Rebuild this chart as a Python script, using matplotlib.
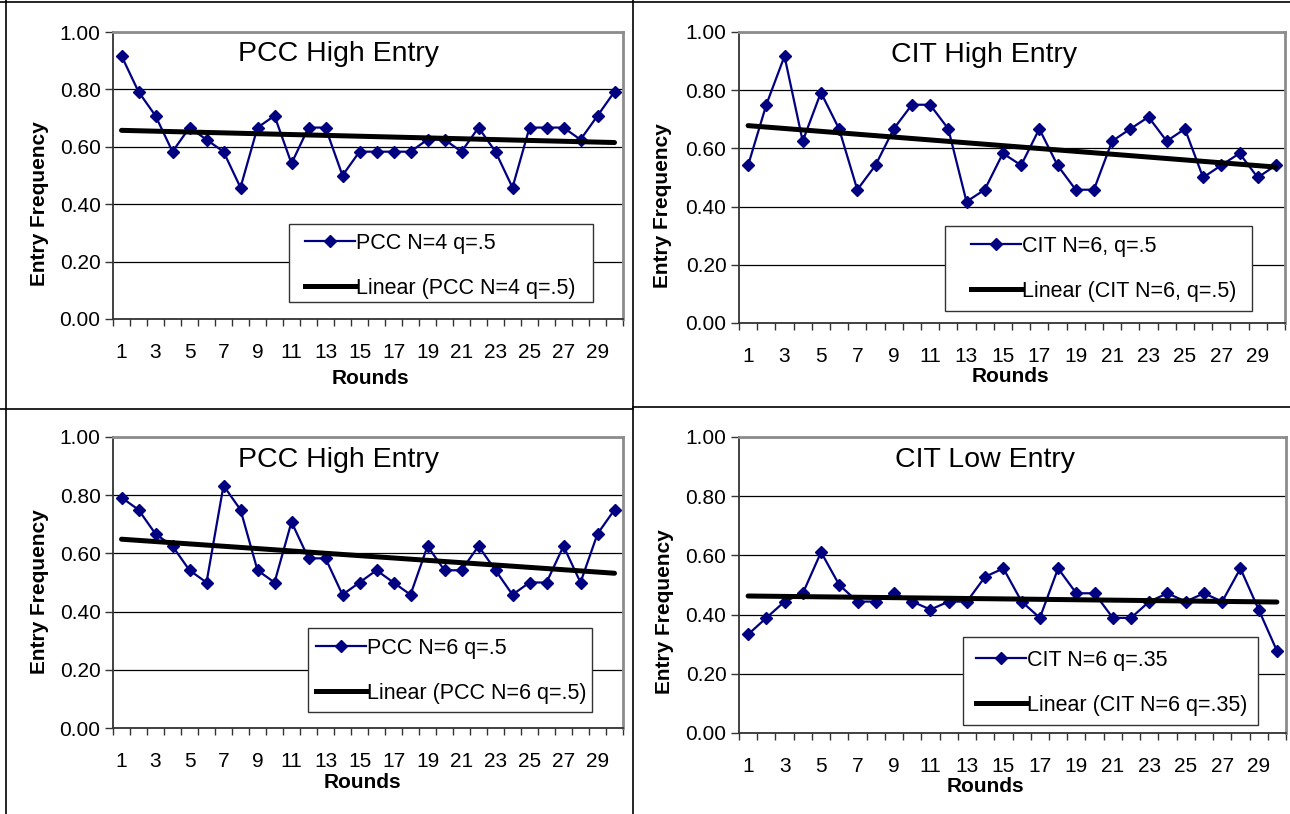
import numpy as np
import matplotlib
matplotlib.use("Agg")
import matplotlib.pyplot as plt
from matplotlib.lines import Line2D
from matplotlib.patches import Rectangle

plt.rcParams["font.family"] = ["Liberation Sans", "DejaVu Sans"]

W, H = 1290, 814

rounds = np.arange(1, 31)
pcc_n4 = [0.917, 0.792, 0.708, 0.583, 0.667, 0.625, 0.583, 0.458, 0.667, 0.708,
          0.542, 0.667, 0.667, 0.500, 0.583, 0.583, 0.583, 0.583, 0.625, 0.625,
          0.583, 0.667, 0.583, 0.458, 0.667, 0.667, 0.667, 0.625, 0.708, 0.792]
cit_n6_high = [0.542, 0.750, 0.917, 0.625, 0.792, 0.667, 0.458, 0.542, 0.667, 0.750,
               0.750, 0.667, 0.417, 0.458, 0.583, 0.542, 0.667, 0.542, 0.458, 0.458,
               0.625, 0.667, 0.708, 0.625, 0.667, 0.500, 0.542, 0.583, 0.500, 0.542]
pcc_n6 = [0.792, 0.750, 0.667, 0.625, 0.542, 0.500, 0.833, 0.750, 0.542, 0.500,
          0.708, 0.583, 0.583, 0.458, 0.500, 0.542, 0.500, 0.458, 0.625, 0.542,
          0.542, 0.625, 0.542, 0.458, 0.500, 0.500, 0.625, 0.500, 0.667, 0.750]
cit_n6_low = [0.333, 0.389, 0.444, 0.472, 0.611, 0.500, 0.444, 0.444, 0.472, 0.444,
              0.417, 0.444, 0.444, 0.528, 0.556, 0.444, 0.389, 0.556, 0.472, 0.472,
              0.389, 0.389, 0.444, 0.472, 0.444, 0.472, 0.444, 0.556, 0.417, 0.278]

titles = ["PCC High Entry", "CIT High Entry", "PCC High Entry", "CIT Low Entry"]
series_names = ["PCC N=4 q=.5", "CIT N=6, q=.5", "PCC N=6 q=.5", "CIT N=6 q=.35"]
series = [pcc_n4, cit_n6_high, pcc_n6, cit_n6_low]

# pixel boxes: left, top, right, bottom
axes_px = [(113, 32, 623, 319), (739, 32, 1285, 323),
           (113, 437, 623, 728), (739, 437, 1286, 733)]
title_px = [(338, 54), (984, 55), (338, 460), (985, 460)]
legend_box_px = [(289, 224, 593, 302), (945, 226, 1252, 311),
                 (308, 628, 592, 712), (963, 637, 1258, 725)]
legend_at_px = [(305, 233), (971, 236), (316, 638), (976, 650)]
ylabel_px = [(40, 204), (663, 206), (40, 592), (665, 612)]
xlabel_px = [(370, 378), (1010, 377), (362, 783), (985, 786)]

fig = plt.figure(figsize=(W / 100, H / 100), dpi=100)


def fx(x):
    return x / W


def fy(y):
    return 1 - y / H


for i in range(4):
    l, t, r, b = axes_px[i]
    ax = fig.add_axes([fx(l), fy(b), (r - l) / W, (b - t) / H])
    y = np.array(series[i])
    ax.plot(rounds, y, color="#000080", lw=1.6, marker="D", ms=6.5,
            zorder=3)
    slope, icpt = np.polyfit(rounds, y, 1)
    ax.plot(rounds, slope * rounds + icpt, color="black", lw=3.6,
            solid_capstyle="round", zorder=4)

    ax.set_xlim(0.5, 30.5)
    ax.set_ylim(0, 1)
    ax.set_yticks(np.arange(0, 1.01, 0.2))
    ax.set_yticklabels([f"{v:.2f}" for v in np.arange(0, 1.01, 0.2)])
    ax.set_xticks(np.arange(1, 31, 2))
    ax.set_xticks(np.arange(0.5, 31, 1), minor=True)
    ax.tick_params(axis="x", which="major", length=0, labelsize=15, pad=17)
    ax.tick_params(axis="x", which="minor", length=5, width=1, color="#333333")
    ax.tick_params(axis="y", length=6, width=1, labelsize=15, pad=3,
                   color="#333333")
    ax.yaxis.grid(True, color="black", lw=0.9)
    ax.set_axisbelow(True)
    for s in ("left", "bottom"):
        ax.spines[s].set_color("#333333")
        ax.spines[s].set_linewidth(1.3)
    for s in ("top", "right"):
        ax.spines[s].set_color("#8c8c8c")
        ax.spines[s].set_linewidth(2)

    fig.text(fx(title_px[i][0]), fy(title_px[i][1]), titles[i],
             fontsize=20.5, ha="center", va="center")
    fig.text(fx(ylabel_px[i][0]), fy(ylabel_px[i][1]), "Entry Frequency",
             fontsize=15, fontweight="bold", rotation=90,
             ha="center", va="center")
    fig.text(fx(xlabel_px[i][0]), fy(xlabel_px[i][1]), "Rounds",
             fontsize=15, fontweight="bold", ha="center", va="center")

    # legend frame as its own box (Excel pads more sideways than vertically)
    bl, bt, br, bb = legend_box_px[i]
    ax.add_patch(Rectangle((fx(bl), fy(bb)), (br - bl) / W, (bb - bt) / H,
                           transform=fig.transFigure, facecolor="white",
                           edgecolor="#333333", lw=1, zorder=4.9,
                           clip_on=False))
    handles = [Line2D([], [], color="#000080", lw=1.6, marker="D", ms=6.5),
               Line2D([], [], color="black", lw=3.6)]
    labels = [series_names[i], "Linear (" + series_names[i] + ")"]
    leg = ax.legend(handles, labels, loc="upper left",
                    bbox_to_anchor=(fx(legend_at_px[i][0]), fy(legend_at_px[i][1])),
                    bbox_transform=fig.transFigure, fontsize=15.5,
                    handlelength=2.3, handletextpad=0.05, borderpad=0,
                    labelspacing=1.1, frameon=False, borderaxespad=0)

# panel borders
fig.add_artist(Line2D([fx(633), fx(633)], [0, 1], color="black", lw=1.2))
fig.add_artist(Line2D([0, fx(633)], [fy(409), fy(409)], color="black", lw=1.2))
fig.add_artist(Line2D([fx(633), 1], [fy(407), fy(407)], color="black", lw=1.2))
fig.add_artist(Line2D([0, 1], [fy(2), fy(2)], color="black", lw=1.2))
fig.add_artist(Line2D([fx(6), fx(6)], [0, 1], color="black", lw=1.2))

fig.savefig("out.png", dpi=100)
